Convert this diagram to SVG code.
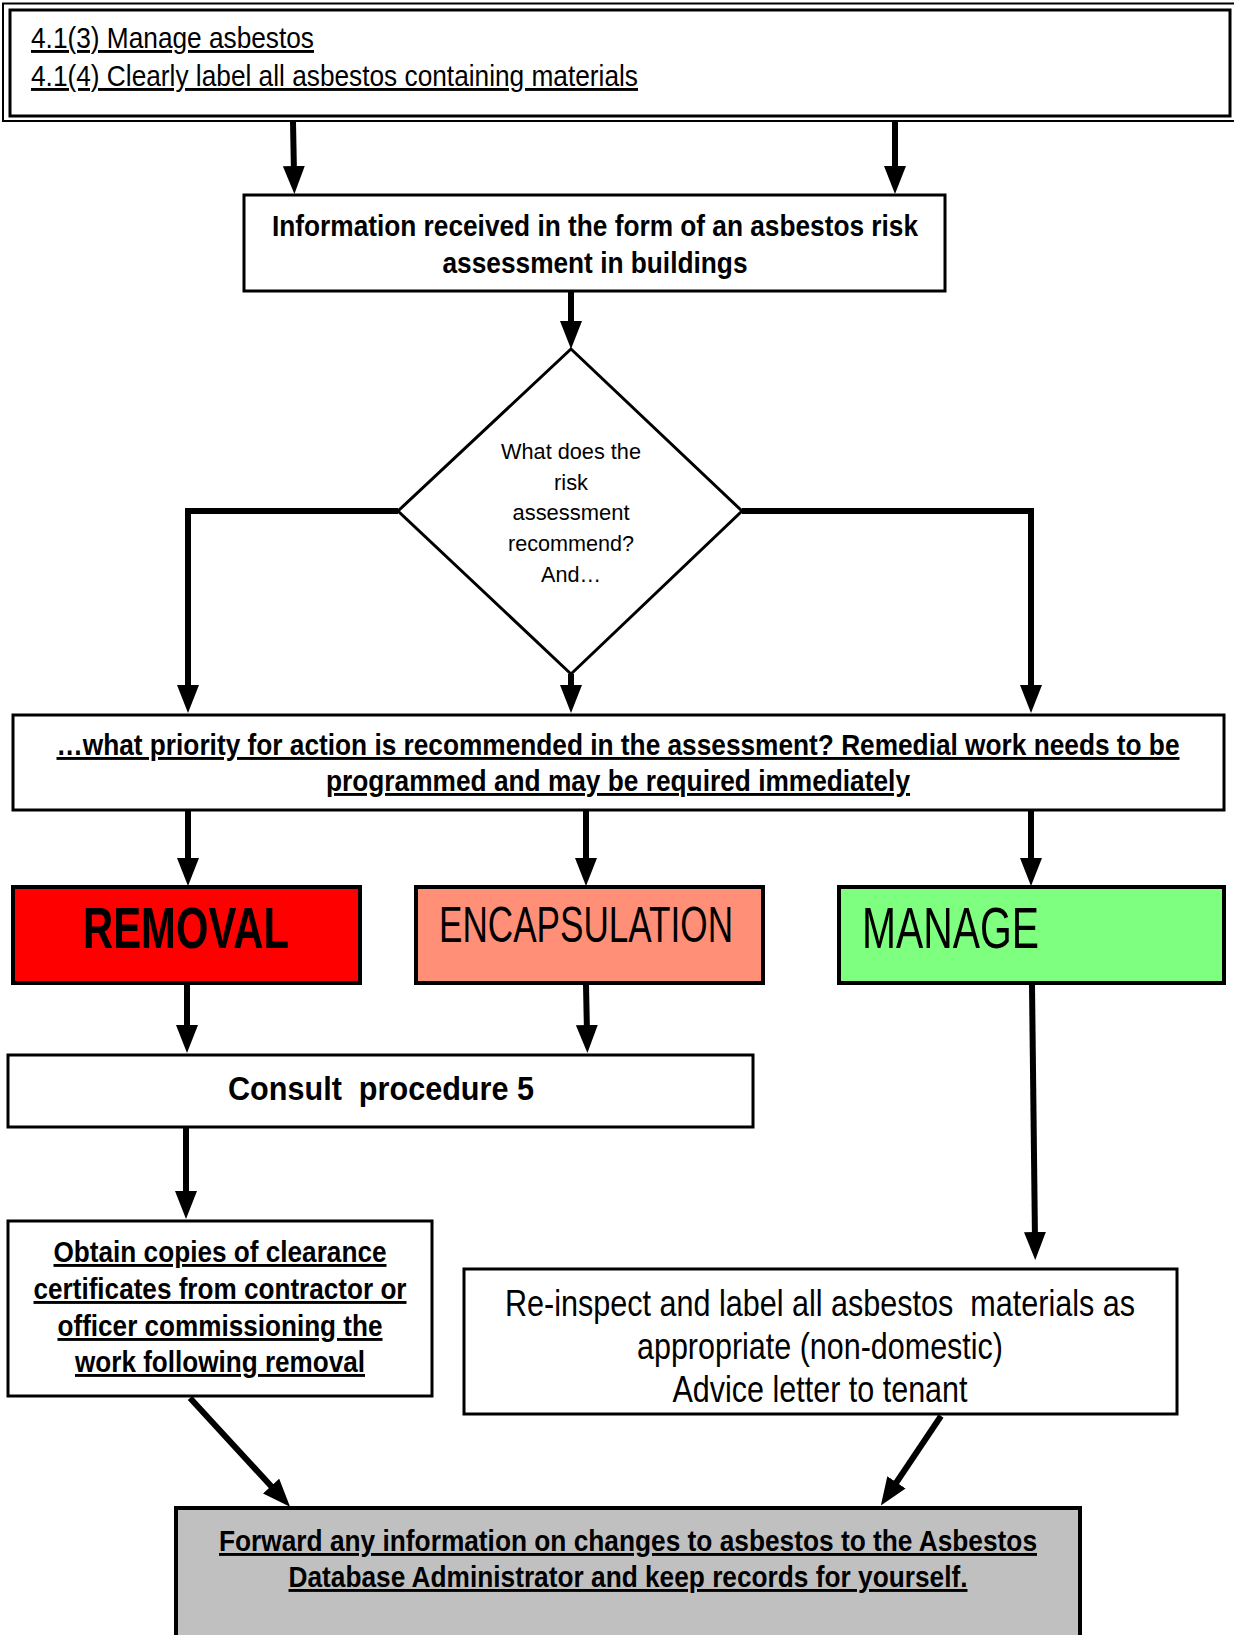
<svg xmlns="http://www.w3.org/2000/svg" width="1234" height="1635" viewBox="0 0 1234 1635">
  <defs>
    <marker id="arrow" markerUnits="userSpaceOnUse" viewBox="0 0 28 22" refX="8" refY="11" markerWidth="28" markerHeight="22" orient="auto">
      <path d="M0,0 L28,11 L0,22 z" fill="#000"/>
    </marker>
    <style>
      .box { fill: #fff; stroke: #000; stroke-width: 3; }
      .conn { fill: none; stroke: #000; stroke-width: 6; marker-end: url(#arrow); }
      text { font-family: "Liberation Sans Narrow", "Liberation Sans", Arial, sans-serif; fill: #000; white-space: pre; }
      .c { text-anchor: middle; }
      .b { font-weight: bold; }
      .u { text-decoration: underline; }
    </style>
  </defs>

  <!-- header box with double frame -->
  <g id="header">
    <rect x="3" y="3.5" width="1240" height="117.5" fill="#fff" stroke="#000" stroke-width="2"/>
    <rect x="10" y="10" width="1220" height="106" fill="#fff" stroke="#000" stroke-width="3"/>
    <text x="31" y="48" font-size="29" class="u" textLength="283" lengthAdjust="spacingAndGlyphs">4.1(3) Manage asbestos</text>
    <text x="31" y="86" font-size="29" class="u" textLength="607" lengthAdjust="spacingAndGlyphs">4.1(4) Clearly label all asbestos containing materials</text>
  </g>

  <g id="info">
    <rect class="box" x="244" y="195" width="701" height="96"/>
    <text x="595" y="236" font-size="29" class="c b" textLength="646" lengthAdjust="spacingAndGlyphs">Information received in the form of an asbestos risk</text>
    <text x="595" y="273" font-size="29" class="c b" textLength="305" lengthAdjust="spacingAndGlyphs">assessment in buildings</text>
  </g>

  <g id="decision">
    <polygon points="571,349 742,511 571,674 398,511" fill="#fff" stroke="#000" stroke-width="3"/>
    <text x="571" y="459" font-size="22" class="c" textLength="140" lengthAdjust="spacingAndGlyphs">What does the</text>
    <text x="571" y="490" font-size="22" class="c" textLength="34" lengthAdjust="spacingAndGlyphs">risk</text>
    <text x="571" y="520" font-size="22" class="c" textLength="117" lengthAdjust="spacingAndGlyphs">assessment</text>
    <text x="571" y="551" font-size="22" class="c" textLength="126" lengthAdjust="spacingAndGlyphs">recommend?</text>
    <text x="571" y="582" font-size="22" class="c" textLength="60" lengthAdjust="spacingAndGlyphs">And…</text>
  </g>

  <g id="priority">
    <rect class="box" x="13" y="715" width="1211" height="95"/>
    <text x="618" y="755" font-size="29" class="c b u" textLength="1123" lengthAdjust="spacingAndGlyphs">…what priority for action is recommended in the assessment? Remedial work needs to be</text>
    <text x="618" y="791" font-size="29" class="c b u" textLength="584" lengthAdjust="spacingAndGlyphs">programmed and may be required immediately</text>
  </g>

  <g id="removal">
    <rect x="13" y="887" width="347" height="96" fill="#ff0000" stroke="#000" stroke-width="4"/>
    <text x="186" y="948" font-size="58" class="c b" textLength="206" lengthAdjust="spacingAndGlyphs">REMOVAL</text>
  </g>

  <g id="encapsulation">
    <rect x="416" y="887" width="347" height="96" fill="#ff9077" stroke="#000" stroke-width="4"/>
    <text x="439" y="942" font-size="50" textLength="294" lengthAdjust="spacingAndGlyphs">ENCAPSULATION</text>
  </g>

  <g id="manage">
    <rect x="839" y="887" width="385" height="96" fill="#7fff7f" stroke="#000" stroke-width="4"/>
    <text x="862" y="948" font-size="58" textLength="177" lengthAdjust="spacingAndGlyphs">MANAGE</text>
  </g>

  <g id="consult">
    <rect class="box" x="8" y="1055" width="745" height="72"/>
    <text x="381" y="1100" font-size="34" class="c b" textLength="306" lengthAdjust="spacingAndGlyphs" xml:space="preserve">Consult  procedure 5</text>
  </g>

  <g id="clearance">
    <rect class="box" x="8" y="1221" width="424" height="175"/>
    <text x="220" y="1262" font-size="29" class="c b u" textLength="333" lengthAdjust="spacingAndGlyphs">Obtain copies of clearance</text>
    <text x="220" y="1299" font-size="29" class="c b u" textLength="373" lengthAdjust="spacingAndGlyphs">certificates from contractor or</text>
    <text x="220" y="1336" font-size="29" class="c b u" textLength="325" lengthAdjust="spacingAndGlyphs">officer commissioning the</text>
    <text x="220" y="1372" font-size="29" class="c b u" textLength="290" lengthAdjust="spacingAndGlyphs">work following removal</text>
  </g>

  <g id="reinspect">
    <rect class="box" x="464" y="1269" width="713" height="145"/>
    <text x="820" y="1316" font-size="37" class="c" textLength="630" lengthAdjust="spacingAndGlyphs" xml:space="preserve">Re-inspect and label all asbestos  materials as</text>
    <text x="820" y="1359" font-size="37" class="c" textLength="366" lengthAdjust="spacingAndGlyphs">appropriate (non-domestic)</text>
    <text x="820" y="1402" font-size="37" class="c" textLength="295" lengthAdjust="spacingAndGlyphs">Advice letter to tenant</text>
  </g>

  <g id="forward">
    <rect x="176" y="1508" width="904" height="140" fill="#c0c0c0" stroke="#000" stroke-width="4"/>
    <text x="628" y="1551" font-size="29" class="c b u" textLength="818" lengthAdjust="spacingAndGlyphs">Forward any information on changes to asbestos to the Asbestos</text>
    <text x="628" y="1587" font-size="29" class="c b u" textLength="679" lengthAdjust="spacingAndGlyphs">Database Administrator and keep records for yourself.</text>
  </g>

  <!-- connectors -->
  <g id="connectors">
    <path class="conn" d="M293,122 L294,174"/>
    <path class="conn" d="M895,122 L895,174"/>
    <path class="conn" d="M571,292 L571,329"/>
    <path class="conn" d="M398,511 L188,511 L188,693"/>
    <path class="conn" d="M571,674 L571,693"/>
    <path class="conn" d="M742,511 L1031,511 L1031,693"/>
    <path class="conn" d="M188,811 L188,866"/>
    <path class="conn" d="M586,811 L586,866"/>
    <path class="conn" d="M1031,811 L1031,866"/>
    <path class="conn" d="M187,985 L187,1033"/>
    <path class="conn" d="M586,985 L587,1033"/>
    <path class="conn" d="M186,1128 L186,1199"/>
    <path class="conn" d="M1032,985 L1035,1240"/>
    <path class="conn" d="M190,1398 L276.5,1492"/>
    <path class="conn" d="M941,1416 L892,1489"/>
  </g>
</svg>
